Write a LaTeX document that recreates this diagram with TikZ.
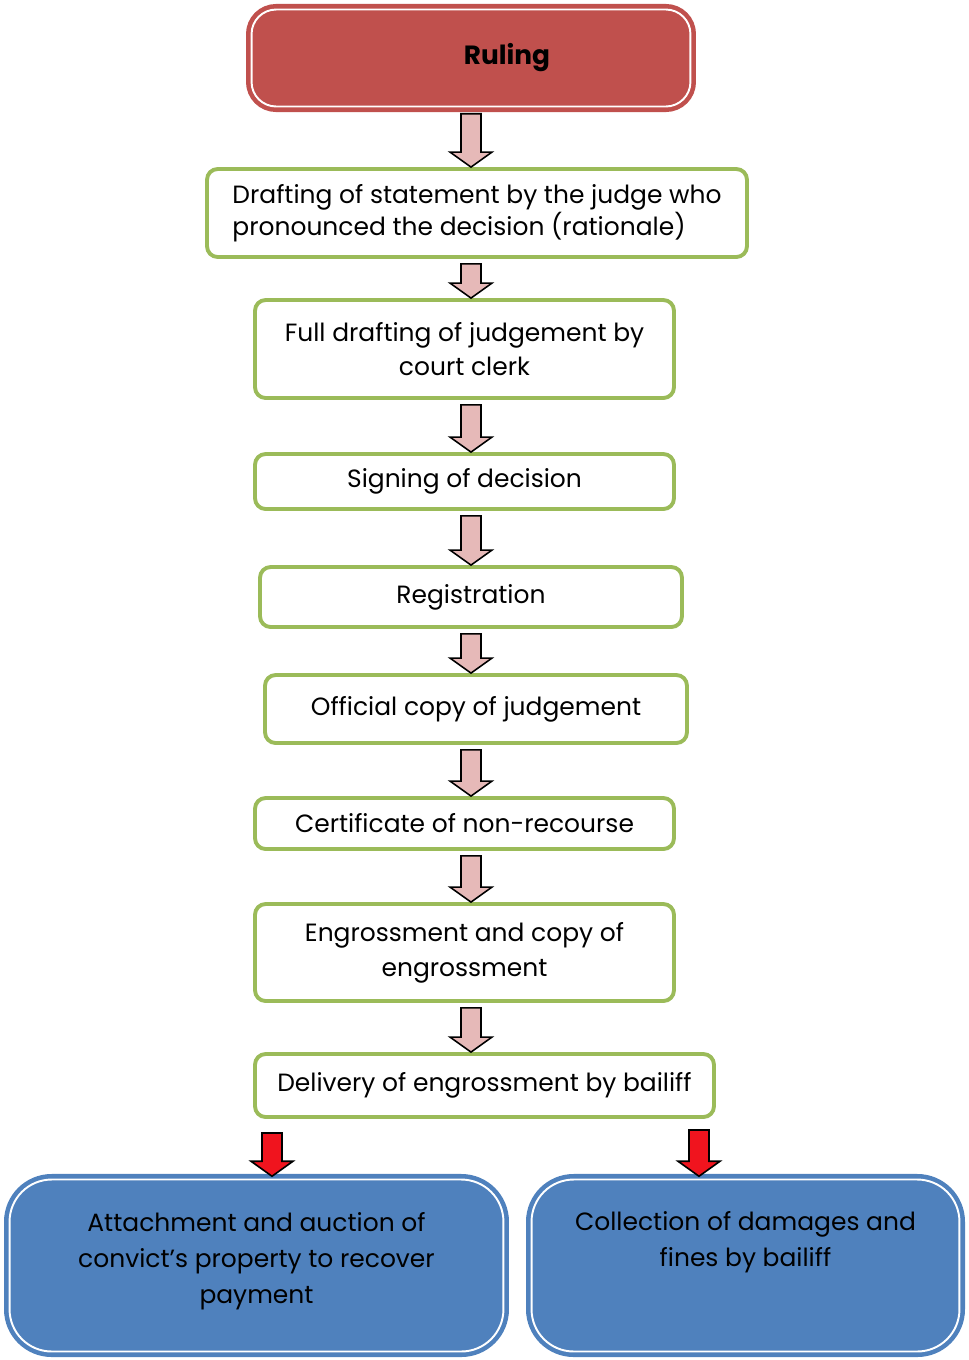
\documentclass[tikz,border=0pt]{standalone}
\usepackage{fontspec}
\setmainfont{Poppins}
\usepackage{tikz}
\usetikzlibrary{calc}
\definecolor{rulered}{HTML}{C0504D}
\definecolor{boxgreen}{HTML}{9BBB59}
\definecolor{boxblue}{HTML}{4F81BD}
\definecolor{arrowpink}{HTML}{E6B9B8}
\definecolor{arrowred}{HTML}{F0141E}

\tikzset{
  greenbox/.style={draw=boxgreen, line width=2.2pt, rounded corners=6pt, fill=white,
    align=center, inner sep=0pt, font=\fontsize{14.2}{19.8}\selectfont},
  rulingbox/.style={draw=rulered, fill=rulered, line width=2.6pt, double=white,
    double distance=1.1pt, rounded corners=14pt, inner sep=0pt,
    font=\bfseries\fontsize{15}{18}\selectfont},
  bluebox/.style={draw=boxblue, fill=boxblue, line width=2.6pt, double=white,
    double distance=1.1pt, rounded corners=24pt, align=center, inner sep=0pt,
    font=\fontsize{14.2}{20.5}\selectfont},
}

% block arrow from #2 down to #3
\newcommand{\blockarrow}[3]{%
  \draw[black, line width=0.9pt, fill=#1, line join=miter] let \p1=#2, \p2=#3 in
    (\x1-0.2cm,\y1) -- (\x1+0.2cm,\y1) -- (\x1+0.2cm,\y2+0.3cm) -- (\x1+0.42cm,\y2+0.3cm)
    -- (\x1,\y2) -- (\x1-0.42cm,\y2+0.3cm) -- (\x1-0.2cm,\y2+0.3cm) -- cycle;}

\begin{document}
\begin{tikzpicture}[x=0.02cm, y=-0.02cm]
\useasboundingbox (0,0) rectangle (968,1360);

\node[rulingbox, minimum width=8.78cm, minimum height=1.94cm] (ruling) at (471,58) {\hspace*{1.44cm}Ruling};

\node[greenbox, minimum width=10.8cm, minimum height=1.76cm, align=left, font=\fontsize{14.2}{17}\selectfont] (draft) at (477,213)
  {Drafting of statement by the judge who\\pronounced the decision (rationale)};
\node[greenbox, minimum width=8.38cm, minimum height=1.96cm] (full) at (464.5,349) {Full drafting of judgement by\\court clerk};
\node[greenbox, minimum width=8.38cm, minimum height=1.1cm] (sign) at (464.5,481.5) {Signing of decision};
\node[greenbox, minimum width=8.44cm, minimum height=1.2cm] (reg) at (471,597) {Registration};
\node[greenbox, minimum width=8.44cm, minimum height=1.36cm] (copy) at (476,709) {Official copy of judgement};
\node[greenbox, minimum width=8.38cm, minimum height=1.02cm] (cert) at (464.5,823.5) {Certificate of non-recourse};
\node[greenbox, minimum width=8.38cm, minimum height=1.94cm] (engr) at (464.5,952.5) {Engrossment and copy of\\engrossment};
\node[greenbox, minimum width=9.18cm, minimum height=1.26cm] (deliv) at (484.5,1085.5) {Delivery of engrossment by bailiff};

\node[bluebox, minimum width=9.88cm, minimum height=3.44cm, text depth=0.3cm] (attach) at (256.5,1265.5)
  {Attachment and auction of\\convict's property to recover\\payment};
\node[bluebox, minimum width=8.56cm, minimum height=3.44cm, text depth=1.05cm] (collect) at (745.5,1265.5)
  {Collection of damages and\\fines by bailiff};

\coordinate (mid) at (471,0);
\foreach \i/\j in {ruling/draft, draft/full, full/sign, sign/reg, reg/copy, copy/cert, cert/engr, engr/deliv}
  \blockarrow{arrowpink}{([yshift=-0.1cm]\i.south -| mid)}{(\j.north -| mid)};

\coordinate (lefttop) at (272,1133);
\coordinate (righttop) at (699,1130);
\blockarrow{arrowred}{(lefttop)}{([yshift=0.02cm]lefttop |- attach.north)}
\blockarrow{arrowred}{(righttop)}{([yshift=0.02cm]righttop |- collect.north)}

\end{tikzpicture}
\end{document}
